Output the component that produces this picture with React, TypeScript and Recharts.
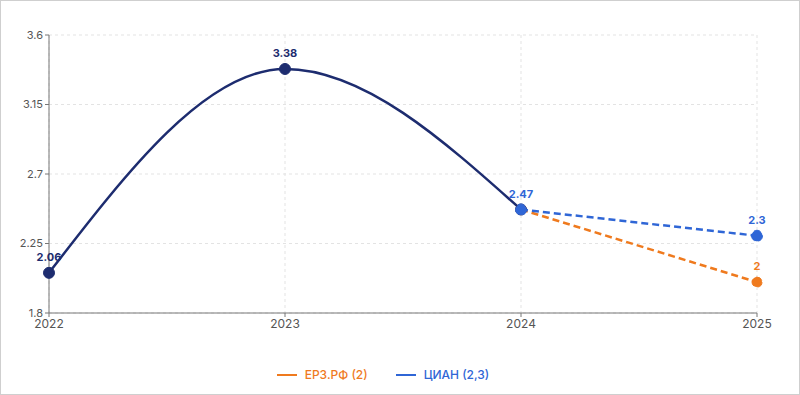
import { CartesianGrid, Line, LineChart, XAxis, YAxis, Legend } from "recharts";

const years = ["2022", "2023", "2024", "2025"];
const history = [2.06, 3.38, 2.47, null];
const erz = [null, null, 2.47, 2];
const cian = [null, null, 2.47, 2.3];
const yTicks = [1.8, 2.25, 2.7, 3.15, 3.6];

const NAVY = "#1d2c6f";
const BLUE = "#2f66d6";
const ORANGE = "#ef7a1e";

const data = years.map((year, i) => ({ year, history: history[i], erz: erz[i], cian: cian[i] }));

const makeLabel = (color: string, show: number[]) => (props: any) => {
  const { x, y, value, index } = props;
  if (!show.includes(index) || value == null) return null;
  return (
    <text x={x} y={y - 12} textAnchor="middle" fill={color} fontSize={11} fontWeight={700}>
      {value}
    </text>
  );
};

const legendItems = [
  { name: "ЕРЗ.РФ (2)", color: ORANGE },
  { name: "ЦИАН (2,3)", color: BLUE },
];

function LegendContent() {
  return (
    <div style={{ display: "flex", justifyContent: "center", gap: 28, fontSize: 12, fontWeight: 500 }}>
      {legendItems.map((it) => (
        <div key={it.name} style={{ display: "flex", alignItems: "center", gap: 8, color: it.color }}>
          <span style={{ display: "inline-block", width: 20, height: 2, background: it.color }} />
          {it.name}
        </div>
      ))}
    </div>
  );
}

export default function App() {
  return (
    <div
      style={{
        position: "absolute",
        left: 0,
        top: 0,
        width: 798,
        height: 393,
        border: "1px solid #cfcfcf",
        background: "#fff",
        fontFamily: "Inter, 'Liberation Sans', sans-serif",
      }}
    >
      <LineChart width={798} height={393} data={data} margin={{ top: 34, right: 42, left: 8, bottom: 10 }}>
        <CartesianGrid strokeDasharray="3 3" stroke="#e3e3e3" />
        <XAxis
          dataKey="year"
          stroke="#777"
          tick={{ fill: "#555", fontSize: 12 }}
          tickSize={4}
          height={22}
        />
        <YAxis
          domain={[1.8, 3.6]}
          ticks={yTicks}
          stroke="#777"
          tick={{ fill: "#555", fontSize: 11 }}
          tickSize={4}
          width={40}
        />
        <Legend
          verticalAlign="bottom"
          height={49}
          content={<LegendContent />}
          wrapperStyle={{ top: 366, bottom: "auto" }}
        />
        <Line
          type="monotone"
          dataKey="history"
          stroke={NAVY}
          strokeWidth={2.5}
          dot={{ r: 5.5, fill: NAVY, stroke: NAVY, strokeWidth: 1 }}
          label={makeLabel(NAVY, [0, 1])}
          legendType="none"
          isAnimationActive={false}
        />
        <Line
          type="linear"
          dataKey="erz"
          stroke={ORANGE}
          strokeWidth={2.5}
          strokeDasharray="7 4"
          dot={{ r: 5, fill: ORANGE, stroke: ORANGE, strokeWidth: 1 }}
          label={makeLabel(ORANGE, [3])}
          isAnimationActive={false}
        />
        <Line
          type="linear"
          dataKey="cian"
          stroke={BLUE}
          strokeWidth={2.5}
          strokeDasharray="7 4"
          dot={{ r: 5.5, fill: BLUE, stroke: BLUE, strokeWidth: 1 }}
          label={makeLabel(BLUE, [2, 3])}
          isAnimationActive={false}
        />
      </LineChart>
    </div>
  );
}
